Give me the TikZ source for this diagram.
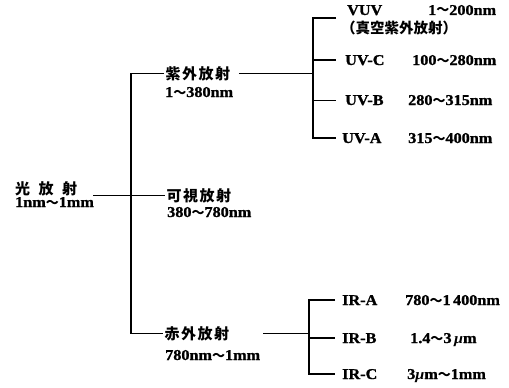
\documentclass[tikz,border=0pt]{standalone}
\usepackage{fontspec}
\setmainfont{Liberation Serif}[FakeStretch=1.08, BoldFeatures={FakeBold=1.2}]
\newfontfamily\cjk{Noto Sans CJK JP}
\newcommand\tl{{\cjk\fontsize{13}{13}\selectfont ～}}
\newcommand\mymu{{\itshape μ}}
\begin{document}
\begin{tikzpicture}[x=1pt,y=-1pt,
  lat/.style={font=\fontsize{15}{16}\selectfont\bfseries, inner sep=0pt, anchor=base west},
  jp/.style={font=\cjk\fontsize{15}{16}\selectfont\bfseries, inner ysep=0pt, inner xsep=1.5pt, anchor=base west},
  conn/.style={line width=1.4pt}]
\fill[white] (0,0) rectangle (509,388);
\useasboundingbox (0,0) rectangle (509,388);

% root
\node[jp, inner xsep=0pt] (root) at (15,194) {光\kern8.5pt放\kern8.5pt射};
\node[lat] (rootr) at (15,207) {1nm\tl 1mm};

% main categories
\node[jp] (uv) at (164,79) {紫\kern1.5pt外\kern1.5pt放\kern1.5pt射};
\node[lat] (uvr) at (165,97) {1\tl 380nm};
\node[jp] (vis) at (165,201) {可\kern1.5pt視\kern1.5pt放\kern1.5pt射};
\node[lat] (visr) at (167,217) {380\tl 780nm};
\node[jp] (ir) at (163,339) {赤\kern1.5pt外\kern1.5pt放\kern1.5pt射};
\node[lat] (irr) at (165,360) {780nm\tl 1mm};

\coordinate (tr) at (131,195);
\draw[conn] (uv.west) -| (tr) |- (ir.west);
\draw[conn] ([xshift=16pt]root.east |- vis.west) -- (vis.west);

% UV sub-branches
\coordinate (st) at (313,75);
\coordinate (vuvc) at (336,18);
\node[lat] (vuv) at (347,15) {VUV};
\node[lat] (vuvr) at (428,15) {1\tl 200nm};
\node[jp, inner xsep=0pt, font=\cjk\fontsize{14.5}{15}\selectfont\bfseries] (vac) at (341,34) {（真空紫外放射）};
\node[lat, inner xsep=9pt] (uvc) at (336,65) {UV-C};
\node[lat] (uvcr) at (412,65) {100\tl 280nm};
\node[lat, inner xsep=9pt] (uvb) at (336,105) {UV-B};
\node[lat] (uvbr) at (408,105) {280\tl 315nm};
\node[lat, inner xsep=6pt] (uva) at (336,143) {UV-A};
\node[lat] (uvar) at (408,143) {315\tl 400nm};

\draw[conn] ([xshift=7pt]uv.east) -- (uv.east -| st);
\draw[conn] (vuvc) -| (st) |- (uva.west);
\draw[conn] (st |- uvc.west) -- (uvc.west);
\draw[conn] (st |- uvb.west) -- (uvb.west);

% IR sub-branches
\coordinate (irt) at (309,335);
\node[lat, inner xsep=7pt] (ira) at (335,305) {IR-A};
\node[lat] (irar) at (405,305) {780\tl 1\,400nm};
\node[lat, inner xsep=7pt] (irb) at (335,343) {IR-B};
\node[lat] (irbr) at (410,343) {1.4\tl 3\,\mymu m};
\node[lat, inner xsep=7pt] (irc) at (335,379) {IR-C};
\node[lat] (ircr) at (407,379) {3\mymu m\tl 1mm};

\draw[conn] ([xshift=3pt]irr.east |- ir.east) -- (ir.east -| irt);
\draw[conn] (ira.west) -| (irt) |- (irc.west);
\draw[conn] (irt |- irb.west) -- (irb.west);
\end{tikzpicture}
\end{document}
